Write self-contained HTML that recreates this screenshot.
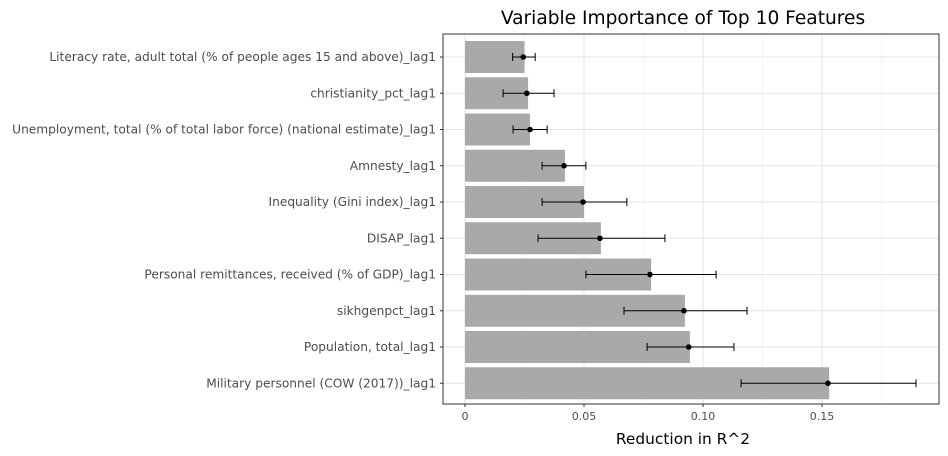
<!DOCTYPE html>
<html><head><meta charset="utf-8"><style>
body{margin:0;background:#fff;}
svg{display:block;font-family:"DejaVu Sans","Liberation Sans",sans-serif;}
</style></head><body>
<svg id="chart" width="948" height="456"></svg>
<script>
const categories=["Literacy rate, adult total (% of people ages 15 and above)_lag1","christianity_pct_lag1","Unemployment, total (% of total labor force) (national estimate)_lag1","Amnesty_lag1","Inequality (Gini index)_lag1","DISAP_lag1","Personal remittances, received (% of GDP)_lag1","sikhgenpct_lag1","Population, total_lag1","Military personnel (COW (2017))_lag1"];
const barValues=[0.025,0.0265,0.0273,0.042,0.050,0.0571,0.0782,0.0924,0.0945,0.153];
const pointValues=[0.0245,0.026,0.0273,0.0416,0.0496,0.0567,0.0777,0.092,0.094,0.1525];
const errLow=[0.020,0.016,0.0202,0.0324,0.0324,0.0307,0.0508,0.0668,0.0765,0.116];
const errHigh=[0.0295,0.0374,0.0345,0.0508,0.068,0.084,0.1055,0.1185,0.113,0.1895];
const xTicks=[0,0.05,0.10,0.15];
const xTickLabels=["0","0.05","0.10","0.15"];
const xMinor=[0.025,0.075,0.125,0.175];

const NS="http://www.w3.org/2000/svg";
const svg=document.getElementById("chart");
const P={l:443,r:939,t:34,b:404};
const x=v=>465+v*2380;
const y=i=>57+i*36.25;
function mk(t,a,parent){const e=document.createElementNS(NS,t);for(const k in a)e.setAttribute(k,a[k]);(parent||svg).appendChild(e);return e;}

const bg=mk("rect",{x:P.l,y:P.t,width:P.r-P.l,height:P.b-P.t,fill:"#fff"});


xMinor.forEach(v=>{const g=mk("line",{x1:x(v),x2:x(v),y1:P.t,y2:P.b,stroke:"#f0f0f0","stroke-width":0.6});

});
xTicks.forEach(v=>{const g=mk("line",{x1:x(v),x2:x(v),y1:P.t,y2:P.b,stroke:"#e3e3e3","stroke-width":1});

});
categories.forEach((c,i)=>{const g=mk("line",{x1:P.l,x2:P.r,y1:y(i),y2:y(i),stroke:"#e3e3e3","stroke-width":1});

});

categories.forEach((c,i)=>{
 const b=mk("rect",{x:x(0),y:y(i)-16,width:x(barValues[i])-x(0),height:32,fill:"#a9a9a9"});
 
 
 const eb=mk("path",{d:`M${x(errLow[i])},${y(i)}H${x(errHigh[i])}M${x(errLow[i])},${y(i)-4}V${y(i)+4}M${x(errHigh[i])},${y(i)-4}V${y(i)+4}`,stroke:"#000","stroke-width":1,fill:"none"});
 
 
 const p=mk("circle",{cx:x(pointValues[i]),cy:y(i),r:2.8,fill:"#000"});
 
 
 const t=mk("text",{x:436,y:y(i)+4,"text-anchor":"end","font-size":12.2,fill:"#4d4d4d"});
 t.textContent=c;
 
 
 const tk=mk("line",{x1:P.l-3,x2:P.l,y1:y(i),y2:y(i),stroke:"#333"});
 
 
});
const border=mk("rect",{x:P.l,y:P.t,width:P.r-P.l,height:P.b-P.t,fill:"none",stroke:"#333","stroke-width":1});


xTicks.forEach((v,i)=>{
 const tk=mk("line",{x1:x(v),x2:x(v),y1:P.b,y2:P.b+3,stroke:"#333"});
 
 
 const t=mk("text",{x:x(v),y:P.b+16,"text-anchor":"middle","font-size":11,fill:"#4d4d4d"});
 t.textContent=xTickLabels[i];
 
 
});
const xt=mk("text",{x:683,y:444,"text-anchor":"middle","font-size":15.4,fill:"#000"});
xt.textContent="Reduction in R^2";


const tt=mk("text",{x:683,y:24,"text-anchor":"middle","font-size":18.6,fill:"#000"});
tt.textContent="Variable Importance of Top 10 Features";


</script>
</body></html>
